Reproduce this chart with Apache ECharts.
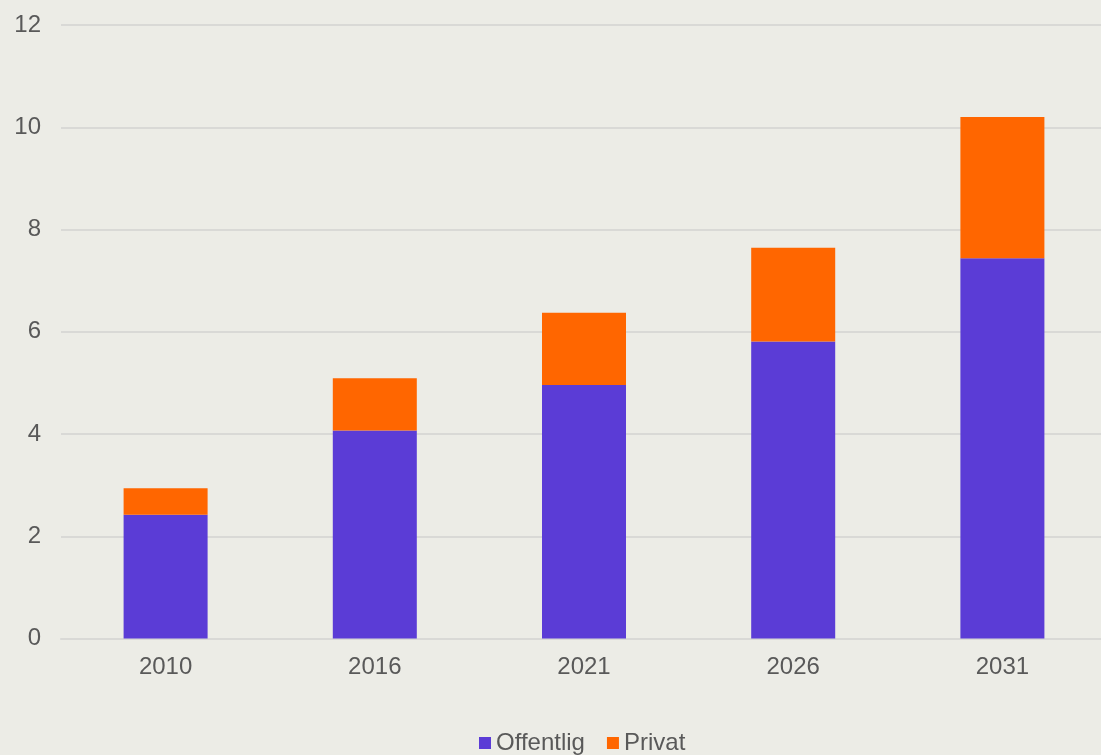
<!DOCTYPE html>
<html>
<head>
<meta charset="utf-8">
<script src="https://cdn.jsdelivr.net/npm/echarts@6/dist/echarts.min.js"></script>
<style>
  html, body { margin: 0; padding: 0; background: #ECECE6; overflow: hidden; }
  #chart { width: 1107px; height: 755px; }
</style>
</head>
<body>
<div id="chart"></div>
<script>
const years = ['2010', '2016', '2021', '2026', '2031'];
const offentlig = [2.42, 4.07, 4.96, 5.81, 7.44];
const privat = [0.52, 1.02, 1.41, 1.835, 2.76];
const yTicks = { min: 0, max: 12, interval: 2 };

const textColor = '#595959';
const font = 'Liberation Sans, Arial, sans-serif';

const chart = echarts.init(document.getElementById('chart'));
chart.setOption({
  backgroundColor: '#ECECE6',
  animation: false,
  textStyle: { fontFamily: font },
  grid: { left: 61, right: 0, top: 25, height: 613.5 },
  legend: {
    top: 726,
    left: 474,
    icon: 'rect',
    itemWidth: 12,
    itemHeight: 12,
    itemGap: 22,
    textStyle: { color: textColor, fontSize: 24, fontFamily: font },
    data: ['Offentlig', 'Privat']
  },
  xAxis: {
    type: 'category',
    data: years,
    axisTick: { show: false },
    axisLine: { lineStyle: { color: '#D9D9D6', width: 2 } },
    axisLabel: { color: textColor, fontSize: 24, margin: 17, fontFamily: font }
  },
  yAxis: {
    type: 'value',
    min: yTicks.min,
    max: yTicks.max,
    interval: yTicks.interval,
    axisLine: { show: false },
    axisTick: { show: false },
    splitLine: { lineStyle: { color: '#D9D9D6', width: 2 } },
    axisLabel: { color: textColor, fontSize: 24, margin: 20, fontFamily: font }
  },
  series: [
    {
      name: 'Offentlig',
      type: 'bar',
      stack: 'total',
      barWidth: 84,
      itemStyle: { color: '#5B3CD6' },
      data: offentlig
    },
    {
      name: 'Privat',
      type: 'bar',
      stack: 'total',
      barWidth: 84,
      itemStyle: { color: '#FF6600' },
      data: privat
    }
  ]
});
</script>
</body>
</html>
